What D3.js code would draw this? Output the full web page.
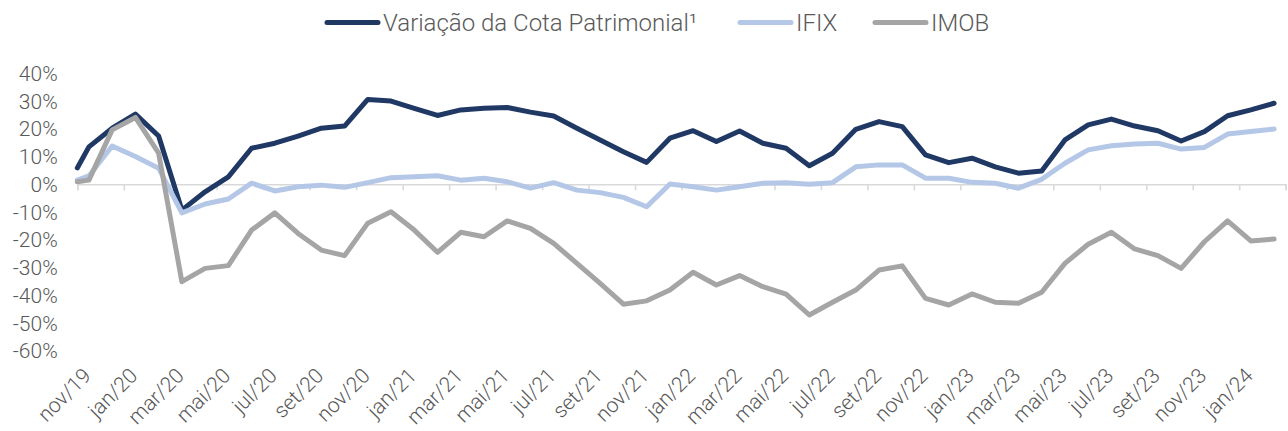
<!DOCTYPE html>
<html>
<head>
<meta charset="utf-8">
<script src="https://cdn.jsdelivr.net/npm/d3@7"></script>
<style>
  html, body { margin: 0; padding: 0; background: #fff; }
  svg text { font-family: Roboto, "Noto Sans", sans-serif; fill: #595959; }
</style>
</head>
<body>
<svg id="chart" width="1288" height="431"></svg>
<script>
// ---- data (values in %) ----
// first point = start (01/nov/19), then one value per month nov/19 .. fev/24
const seriesNames = ["Variação da Cota Patrimonial¹", "IFIX", "IMOB"];
const cota = [5.9, 13.5, 20.2, 25.3, 17.4, -9.3, -2.7, 2.7, 13.0, 14.8, 17.4, 20.2, 21.0, 30.6, 30.0, 27.4,
  24.8, 26.8, 27.4, 27.7, 26.0, 24.6, 20.2, 16.0, 11.7, 7.9, 16.6, 19.3, 15.4, 19.2, 14.8, 13.0,
  6.7, 11.2, 19.8, 22.6, 20.8, 10.6, 7.8, 9.4, 6.3, 4.0, 4.8, 16.0, 21.4, 23.5, 21.0, 19.3,
  15.6, 19.0, 24.7, 26.8, 29.2];
const ifix = [1.5, 3.0, 13.8, 10.0, 5.8, -10.3, -7.1, -5.3, 0.4, -2.4, -0.9, -0.3, -1.1, 0.6, 2.4, 2.7,
  3.1, 1.5, 2.2, 0.9, -1.4, 0.6, -2.1, -3.0, -4.7, -8.1, 0.1, -0.9, -2.1, -0.9, 0.4, 0.6,
  0.0, 0.6, 6.3, 7.0, 7.0, 2.2, 2.2, 0.7, 0.4, -1.4, 1.8, 7.6, 12.4, 13.9, 14.5, 14.8,
  12.7, 13.3, 18.1, 19.0, 19.9];
const imob = [0.9, 1.5, 19.6, 24.1, 11.2, -35.1, -30.3, -29.3, -16.5, -10.3, -17.7, -23.7, -25.7, -14.0, -9.9, -16.5,
  -24.5, -17.3, -18.9, -13.2, -15.9, -21.3, -28.5, -35.7, -43.2, -42.0, -38.1, -31.7, -36.3, -32.9, -36.9, -39.6,
  -47.1, -42.5, -38.1, -30.9, -29.4, -41.1, -43.5, -39.5, -42.5, -42.9, -38.9, -28.5, -21.6, -17.3, -23.3, -25.7,
  -30.3, -20.7, -13.2, -20.4, -19.7];
const tickLabels = ["nov/19","jan/20","mar/20","mai/20","jul/20","set/20","nov/20","jan/21","mar/21","mai/21",
  "jul/21","set/21","nov/21","jan/22","mar/22","mai/22","jul/22","set/22","nov/22","jan/23","mar/23","mai/23",
  "jul/23","set/23","nov/23","jan/24"];
const yTicks = [40, 30, 20, 10, 0, -10, -20, -30, -40, -50, -60];
const colors = ["#203864", "#B4C7E7", "#A5A5A5"];

// ---- layout ----
const svg = d3.select("#chart");
const axisMonths = 52; // nov/19 .. mar/24
const x = d3.scaleLinear().domain([0, axisMonths]).range([77.3, 1285.7]);
const y = d3.scaleLinear().domain([-60, 40]).range([350.8, 73.3]);

// month offset of each point: start point at 0, then mid-month
const pos = i => (i === 0 ? 0 : i - 0.5);

// axis line + ticks at zero
const xAxis = d3.axisBottom(x)
  .tickValues(d3.range(0, axisMonths + 1, 2))
  .tickSize(6)
  .tickFormat("");
const gx = svg.append("g").attr("transform", `translate(0,${y(0)})`).call(xAxis);
gx.select(".domain").attr("stroke", "#D9D9D9").attr("stroke-width", 1.6);
gx.selectAll(".tick line").attr("stroke", "#D9D9D9").attr("stroke-width", 1.6);

// y labels
svg.append("g").selectAll("text").data(yTicks).join("text")
  .attr("x", 57.7)
  .attr("y", d => y(d))
  .attr("dy", "0.36em")
  .attr("text-anchor", "end")
  .style("font-size", "21px")
  .style("font-weight", 300)
  .text(d => d + "%");

// x labels (rotated)
svg.append("g").selectAll("text").data(tickLabels).join("text")
  .attr("transform", (d, i) => `translate(${x(i * 2) + 15},${377}) rotate(-45)`)
  .attr("text-anchor", "end")
  .style("font-size", "21px")
  .style("font-weight", 300)
  .text(d => d);

// lines
const line = d3.line().x((d, i) => x(pos(i))).y(d => y(d));
[cota, ifix, imob].forEach((s, k) => {
  svg.append("path")
    .datum(s)
    .attr("d", line)
    .attr("fill", "none")
    .attr("stroke", colors[k])
    .attr("stroke-width", 5)
    .attr("stroke-linejoin", "round")
    .attr("stroke-linecap", "round");
});

// legend
const legendX = [327, 740, 875];
const lg = svg.append("g");
seriesNames.forEach((name, k) => {
  lg.append("line")
    .attr("x1", legendX[k]).attr("x2", legendX[k] + 51)
    .attr("y1", 22.5).attr("y2", 22.5)
    .attr("stroke", colors[k]).attr("stroke-width", 5).attr("stroke-linecap", "round");
  lg.append("text")
    .attr("x", legendX[k] + 56).attr("y", 30.5)
    .style("font-size", "24px")
    .style("font-weight", 300)
    .text(name);
});
</script>
</body>
</html>
